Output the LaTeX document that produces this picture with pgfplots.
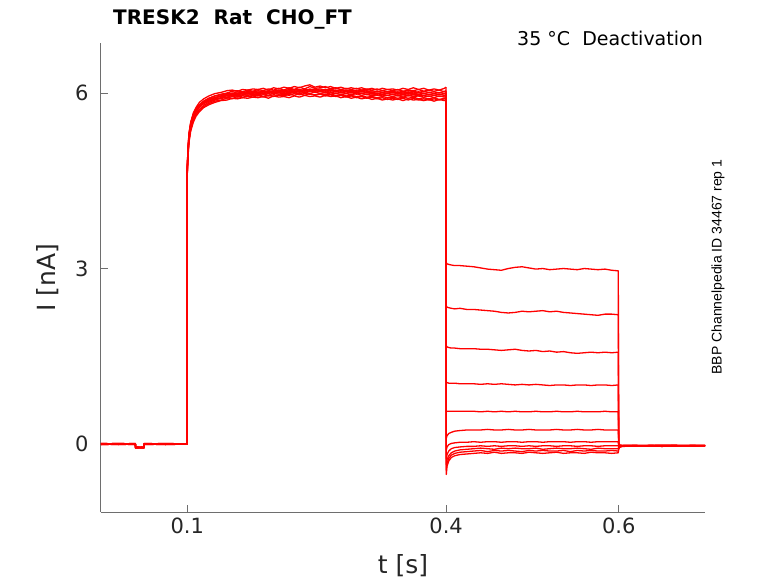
\documentclass[border=0pt]{standalone}
\usepackage{fontspec}
\setmainfont{DejaVu Sans}
\newfontfamily\arialfont{Liberation Sans}
\usepackage{pgfplots}
\usepackage{pgfplotstable}
\pgfplotsset{compat=1.18}
\definecolor{axgray}{RGB}{110,110,110}
\definecolor{tickc}{RGB}{38,38,38}

\pgfplotstableread{
t a1 a2 a3 a4 a5 a6 a7 a8 a9 a10 a11
0      0.00 0.01 -0.01 0.00 0.01 0.00 -0.01 0.00 0.01 0.00 -0.01
0.02   0.01 0.00 0.00 -0.01 0.00 0.01 0.00 -0.01 0.00 0.01 0.00
0.0398 0.00 0.00 0.01 0.00 -0.01 0.00 0.01 0.00 -0.01 0.00 0.00
0.0400 -0.06 -0.05 -0.06 -0.07 -0.06 -0.05 -0.06 -0.06 -0.07 -0.06 -0.05
0.0498 -0.06 -0.06 -0.05 -0.06 -0.07 -0.06 -0.05 -0.06 -0.06 -0.07 -0.06
0.0500 0.00 0.00 0.01 0.00 0.00 -0.01 0.00 0.01 0.00 0.00 -0.01
0.075  0.01 0.00 0.00 -0.01 0.00 0.00 0.01 0.00 -0.01 0.00 0.00
0.0999 0.00 0.00 0.00 0.00 0.00 0.00 0.00 0.00 0.00 0.00 0.00
0.1000 4.62 4.70 4.66 4.74 4.68 4.72 4.65 4.70 4.60 4.76 4.64
0.1008 5.02 4.98 5.05 4.95 5.00 5.06 4.93 5.01 4.97 5.03 4.90
0.102  5.30 5.24 5.28 5.22 5.26 5.32 5.18 5.25 5.20 5.29 5.16
0.104  5.50 5.44 5.47 5.41 5.46 5.50 5.38 5.44 5.40 5.48 5.35
0.107  5.66 5.60 5.63 5.57 5.61 5.64 5.54 5.59 5.55 5.62 5.50
0.110  5.75 5.70 5.72 5.67 5.70 5.73 5.64 5.68 5.63 5.70 5.60
0.114  5.84 5.79 5.80 5.76 5.78 5.80 5.72 5.76 5.71 5.77 5.68
0.119  5.90 5.86 5.86 5.83 5.84 5.85 5.79 5.82 5.77 5.82 5.75
0.125  5.95 5.91 5.91 5.88 5.89 5.89 5.84 5.86 5.82 5.86 5.80
0.132  5.99 5.95 5.95 5.92 5.92 5.92 5.88 5.90 5.86 5.89 5.84
0.139  6.01 5.98 5.97 5.95 5.95 5.94 5.91 5.92 5.88 5.91 5.87
0.146  6.04 6.00 5.99 5.97 5.98 5.95 5.96 5.93 5.91 5.92 5.88
0.152  6.05 6.03 5.99 6.00 5.97 5.98 5.95 5.96 5.94 5.90 5.91
0.158  6.03 6.04 6.02 5.99 6.00 5.97 5.98 5.95 5.93 5.94 5.90
0.164  6.06 6.02 6.00 6.02 5.98 6.00 5.96 5.97 5.95 5.92 5.92
0.170  6.05 6.05 6.03 6.00 6.01 5.98 5.99 5.96 5.94 5.95 5.91
0.176  6.07 6.03 6.01 6.03 5.99 6.01 5.97 5.98 5.96 5.93 5.93
0.182  6.06 6.06 6.04 6.01 6.02 5.99 6.00 5.97 5.95 5.96 5.92
0.188  6.08 6.04 6.02 6.03 6.00 6.02 5.98 5.99 5.97 5.93 5.94
0.194  6.05 6.07 6.04 6.01 6.03 5.99 6.01 5.96 5.95 5.96 5.91
0.200  6.09 6.05 6.03 6.04 6.01 6.02 5.99 6.00 5.97 5.94 5.95
0.206  6.07 6.08 6.05 6.02 6.03 6.00 6.01 5.98 5.96 5.97 5.93
0.212  6.10 6.05 6.04 6.05 6.01 6.03 5.99 6.00 5.98 5.95 5.94
0.218  6.08 6.09 6.06 6.03 6.04 6.01 6.02 5.99 5.96 5.98 5.92
0.224  6.11 6.06 6.05 6.06 6.02 6.04 6.00 6.01 5.99 5.96 5.95
0.230  6.09 6.10 6.06 6.04 6.05 6.01 6.03 5.98 5.97 5.99 5.93
0.236  6.12 6.07 6.04 6.06 6.03 6.04 6.00 6.02 5.99 5.96 5.96
0.242  6.14 6.11 6.07 6.05 6.06 6.02 6.04 5.99 5.98 5.99 5.94
0.248  6.10 6.08 6.05 6.07 6.03 6.05 6.01 6.02 5.97 5.96 5.95
0.254  6.12 6.09 6.07 6.04 6.05 6.02 6.03 5.99 5.99 5.98 5.93
0.260  6.09 6.11 6.05 6.06 6.03 6.04 6.00 6.01 5.97 5.95 5.96
0.266  6.11 6.07 6.07 6.04 6.05 6.01 6.02 5.98 5.98 5.97 5.94
0.272  6.08 6.09 6.04 6.05 6.02 6.03 5.99 6.00 5.96 5.94 5.95
0.278  6.10 6.06 6.06 6.03 6.04 6.00 6.01 5.97 5.97 5.96 5.92
0.284  6.07 6.08 6.04 6.05 6.02 6.02 5.99 5.99 5.95 5.93 5.94
0.290  6.09 6.06 6.05 6.03 6.03 6.00 6.01 5.97 5.96 5.95 5.91
0.296  6.07 6.08 6.03 6.04 6.01 6.02 5.98 5.99 5.94 5.92 5.93
0.302  6.09 6.05 6.05 6.02 6.03 5.99 6.00 5.96 5.95 5.94 5.90
0.308  6.06 6.07 6.03 6.04 6.00 6.01 5.97 5.98 5.93 5.91 5.92
0.314  6.08 6.05 6.04 6.01 6.02 5.98 5.99 5.95 5.94 5.93 5.89
0.320  6.05 6.07 6.02 6.03 5.99 6.00 5.96 5.97 5.92 5.90 5.91
0.326  6.08 6.04 6.04 6.01 6.01 5.98 5.98 5.95 5.94 5.92 5.88
0.332  6.06 6.06 6.02 6.02 5.99 6.00 5.96 5.96 5.92 5.89 5.90
0.338  6.07 6.04 6.03 6.00 6.01 5.97 5.98 5.94 5.93 5.91 5.88
0.344  6.05 6.06 6.01 6.02 5.98 5.99 5.95 5.96 5.91 5.89 5.90
0.350  6.08 6.03 6.03 6.00 6.00 5.97 5.97 5.93 5.93 5.91 5.87
0.356  6.06 6.05 6.01 6.02 5.98 5.99 5.95 5.96 5.91 5.88 5.90
0.362  6.09 6.04 6.03 6.00 6.00 5.97 5.97 5.94 5.93 5.91 5.88
0.368  6.06 6.06 6.01 6.02 5.98 5.98 5.95 5.95 5.90 5.88 5.89
0.374  6.08 6.03 6.03 5.99 6.00 5.96 5.96 5.93 5.92 5.90 5.87
0.380  6.05 6.05 6.01 6.01 5.97 5.98 5.94 5.95 5.90 5.88 5.89
0.386  6.07 6.03 6.02 5.99 5.99 5.96 5.96 5.92 5.92 5.90 5.86
0.392  6.05 6.05 6.00 6.01 5.97 5.98 5.94 5.95 5.89 5.88 5.89
0.398  6.08 6.02 6.03 5.99 5.99 5.96 5.95 5.93 5.91 5.90 5.87
0.3999 6.10 6.04 6.02 6.00 5.98 5.97 5.96 5.94 5.92 5.90 5.88
}\act

\pgfplotstableread{
t d1 d2 d3 d4 d5 d6 d7 d8 d9 d10 d11
0.3999 6.10 6.04 6.02 6.00 5.98 5.97 5.96 5.94 5.92 5.90 5.88
0.4002 3.10 2.36 1.68 1.05 0.55 0.10 -0.10 -0.25 -0.35 -0.45 -0.52
0.401  3.08 2.34 1.66 1.05 0.56 0.14 -0.05 -0.18 -0.27 -0.33 -0.38
0.403  3.07 2.33 1.65 1.04 0.56 0.18 -0.01 -0.12 -0.20 -0.25 -0.29
0.406  3.06 2.32 1.64 1.04 0.56 0.20 0.01 -0.08 -0.15 -0.19 -0.23
0.410  3.05 2.31 1.64 1.04 0.56 0.22 0.02 -0.06 -0.12 -0.16 -0.20
0.416  3.05 2.32 1.63 1.03 0.56 0.23 0.03 -0.05 -0.10 -0.14 -0.18
0.424  3.04 2.30 1.63 1.03 0.56 0.24 0.03 -0.04 -0.09 -0.13 -0.17
0.432  3.03 2.30 1.63 1.03 0.56 0.24 0.04 -0.04 -0.08 -0.12 -0.16
0.440  3.01 2.29 1.62 1.02 0.55 0.24 0.03 -0.03 -0.07 -0.11 -0.15
0.448  2.99 2.28 1.62 1.03 0.56 0.25 0.04 -0.04 -0.08 -0.13 -0.16
0.456  2.98 2.27 1.61 1.02 0.55 0.24 0.04 -0.03 -0.09 -0.11 -0.14
0.464  2.97 2.25 1.60 1.03 0.56 0.24 0.03 -0.04 -0.07 -0.12 -0.16
0.472  3.00 2.24 1.61 1.02 0.55 0.25 0.04 -0.03 -0.08 -0.11 -0.15
0.480  3.02 2.25 1.62 1.01 0.56 0.24 0.04 -0.03 -0.07 -0.12 -0.15
0.488  3.03 2.27 1.60 1.02 0.55 0.24 0.03 -0.04 -0.08 -0.13 -0.16
0.496  3.01 2.26 1.59 1.01 0.55 0.25 0.04 -0.03 -0.08 -0.11 -0.14
0.504  2.99 2.27 1.60 1.02 0.56 0.24 0.04 -0.04 -0.07 -0.12 -0.15
0.512  3.00 2.28 1.58 1.01 0.55 0.24 0.03 -0.03 -0.09 -0.11 -0.16
0.520  2.98 2.26 1.59 1.00 0.55 0.24 0.04 -0.03 -0.08 -0.12 -0.15
0.528  2.99 2.27 1.57 1.01 0.56 0.25 0.04 -0.04 -0.07 -0.12 -0.14
0.536  3.00 2.25 1.58 1.01 0.55 0.24 0.04 -0.03 -0.08 -0.11 -0.16
0.544  2.99 2.24 1.56 1.00 0.55 0.24 0.03 -0.03 -0.08 -0.13 -0.15
0.552  2.98 2.23 1.55 1.01 0.56 0.25 0.04 -0.04 -0.07 -0.11 -0.15
0.560  3.00 2.22 1.56 1.01 0.55 0.24 0.04 -0.03 -0.08 -0.12 -0.16
0.568  2.99 2.21 1.57 1.00 0.55 0.24 0.03 -0.03 -0.09 -0.11 -0.14
0.576  2.98 2.20 1.56 1.01 0.55 0.25 0.04 -0.04 -0.07 -0.12 -0.15
0.584  2.99 2.22 1.57 1.01 0.56 0.24 0.04 -0.03 -0.08 -0.12 -0.15
0.592  2.97 2.22 1.56 1.00 0.55 0.24 0.04 -0.03 -0.08 -0.11 -0.16
0.5995 2.96 2.21 1.57 1.01 0.55 0.24 0.04 -0.03 -0.08 -0.12 -0.15
0.6000 0.02 -0.06 0.01 -0.07 0.00 -0.05 -0.08 -0.02 -0.06 -0.09 -0.04
0.602  -0.04 -0.02 -0.05 -0.03 -0.04 -0.02 -0.03 -0.05 -0.03 -0.02 -0.04
0.606  -0.03 -0.03 -0.02 -0.03 -0.04 -0.03 -0.02 -0.03 -0.03 -0.04 -0.03
0.650  -0.03 -0.02 -0.03 -0.04 -0.03 -0.02 -0.03 -0.03 -0.04 -0.02 -0.03
0.700  -0.03 -0.03 -0.02 -0.03 -0.03 -0.03 -0.02 -0.03 -0.03 -0.03 -0.03
}\deact

\begin{document}
\begin{tikzpicture}
\begin{axis}[
  at={(0pt,0pt)}, anchor=south west,
  scale only axis, width=604pt, height=469pt,
  xmin=0, xmax=0.7, ymin=-1.162, ymax=6.855,
  axis x line*=bottom, axis y line*=left,
  axis line style={axgray, line width=1pt},
  xtick={0.1,0.4,0.6}, ytick={0,3,6},
  xticklabels={0.1,0.4,0.6},
  tick align=inside, major tick length=7pt,
  tick style={axgray, line width=1pt},
  ticklabel style={font=\fontsize{21}{24}\selectfont, text=tickc},
  xticklabel style={yshift=-2pt},
  yticklabel style={xshift=-9pt},
  /pgf/number format/assume math mode=true,
  xlabel={t [s]}, ylabel={I [nA]},
  label style={font=\fontsize{25}{28}\selectfont, text=tickc},
  xlabel style={at={(axis description cs:0.5,0)}, anchor=center, yshift=-54pt},
  ylabel style={at={(axis description cs:0,0.5)}, anchor=center, yshift=53pt},
  cycle list={{red, no markers, line width=1.3pt, line join=round}},
]
\pgfplotsinvokeforeach{1,...,11}{
  \addplot[red, no markers, line width=1.3pt, line join=round] table[x=t, y=a#1]{\act};
  \addplot[red, no markers, line width=1.3pt, line join=round] table[x=t, y=d#1]{\deact};
}
\end{axis}
\node[anchor=base west, inner sep=0pt, font=\bfseries\fontsize{20}{24}\selectfont] at (12pt,487pt) {TRESK2\hspace{0.7em}Rat\hspace{0.7em}CHO\_FT};
\node[anchor=base east, inner sep=0pt, font=\fontsize{19}{22}\selectfont] at (602pt,466pt) {35 °C\hspace{0.64em}Deactivation};
\node[rotate=90, anchor=center, inner sep=0pt, font=\arialfont\fontsize{14}{16}\selectfont] at (617pt,245pt) {BBP Channelpedia ID 34467 rep 1};
\pgfresetboundingbox
\useasboundingbox (-101pt,-71pt) rectangle (677pt,512pt);
\end{tikzpicture}
\end{document}
